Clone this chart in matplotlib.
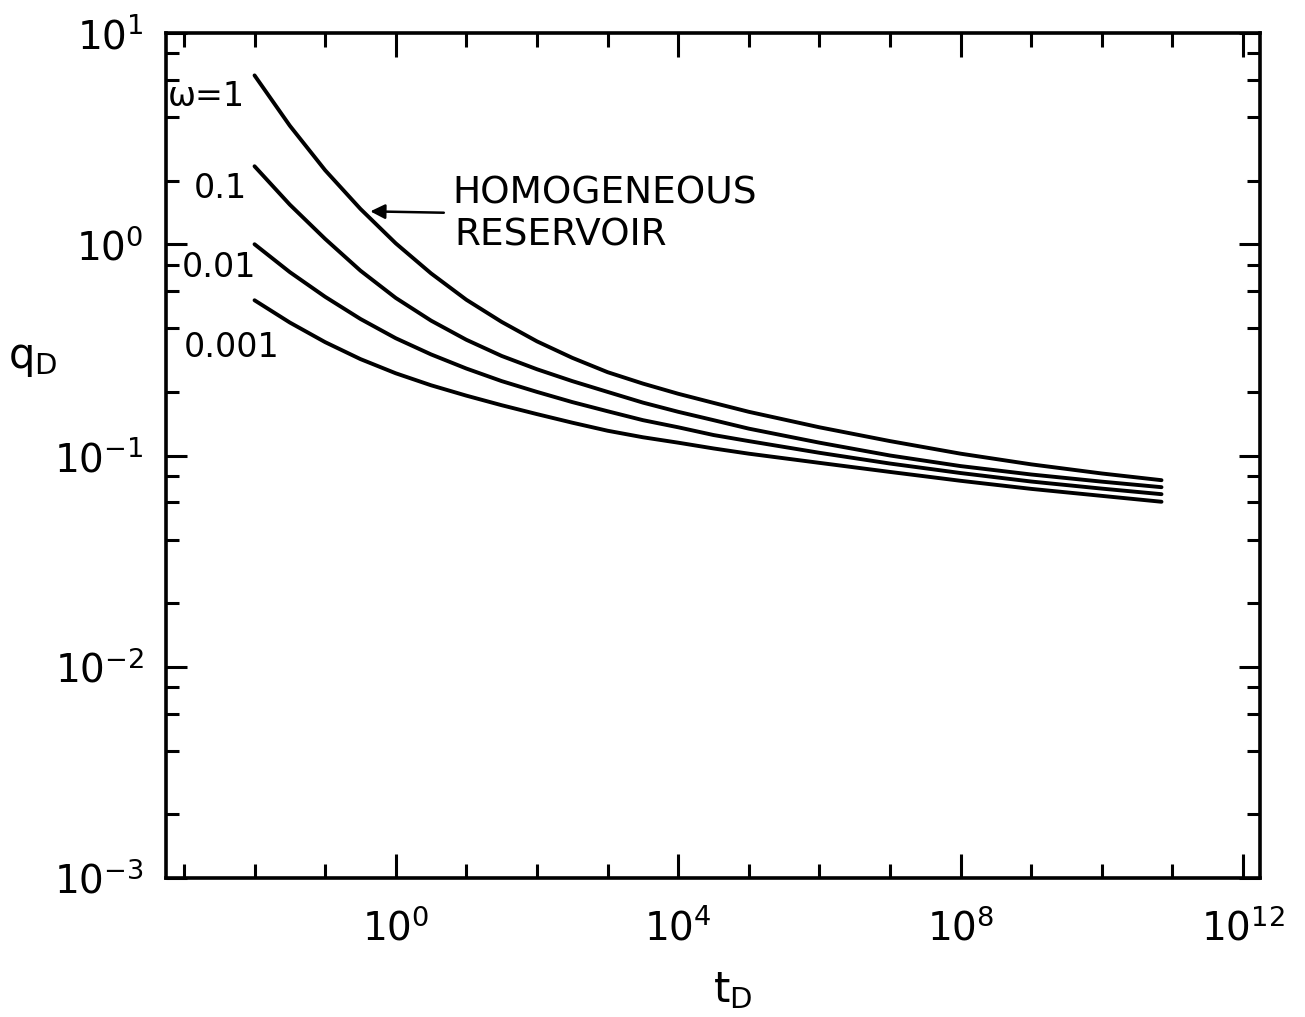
import matplotlib
matplotlib.use("Agg")
import matplotlib.pyplot as plt
import numpy as np
from matplotlib.ticker import FixedLocator, NullFormatter, FuncFormatter

# ---- data ----
t_D = [0.01, 0.0316, 0.1, 0.316, 1.0, 3.16, 10.0, 31.6, 100.0, 316.0, 1e3,
       3162.0, 1e4, 31623.0, 1e5, 1e6, 1e7, 1e8, 1e9, 1e10, 7e10]
q_omega_1 = [6.30, 3.64, 2.24, 1.47, 1.01, 0.728, 0.546, 0.429, 0.347, 0.290, 0.248,
             0.219, 0.196, 0.1775, 0.161, 0.136, 0.117, 0.102, 0.0908, 0.0822, 0.0764]
q_omega_0_1 = [2.34, 1.54, 1.06, 0.750, 0.557, 0.435, 0.353, 0.296, 0.256, 0.225, 0.200,
               0.178, 0.161, 0.147, 0.134, 0.115, 0.100, 0.0891, 0.0813, 0.0752, 0.0708]
q_omega_0_01 = [1.00, 0.738, 0.564, 0.443, 0.359, 0.301, 0.258, 0.225, 0.200, 0.179, 0.162,
                0.147, 0.136, 0.125, 0.117, 0.103, 0.0916, 0.0826, 0.0753, 0.0697, 0.0656]
q_omega_0_001 = [0.543, 0.426, 0.344, 0.286, 0.245, 0.215, 0.192, 0.173, 0.157, 0.143, 0.131,
                 0.122, 0.115, 0.108, 0.102, 0.0923, 0.0836, 0.0759, 0.0695, 0.0644, 0.0604]
series = [q_omega_1, q_omega_0_1, q_omega_0_01, q_omega_0_001]
curve_labels = ["ω=1", "0.1", "0.01", "0.001"]
label_pos = [(10**-2.13, 10**0.70), (10**-2.10, 10**0.265),
             (10**-1.98, 10**-0.109), (10**-1.65, 10**-0.490)]
x_major = [1e0, 1e4, 1e8, 1e12]
x_minor = [10.0**k for k in range(-3, 12) if k % 4 != 0]
y_major = [1e-3, 1e-2, 1e-1, 1e0, 1e1]
y_minor = [m * 10.0**k for k in range(-3, 1) for m in (2, 4, 6, 8)]

fig = plt.figure(figsize=(13.05, 10.17), dpi=100)
ax = fig.add_axes([166/1305, 1-878/1017, 1094/1305, 845/1017])
ax.set_xscale("log")
ax.set_yscale("log")
ax.set_xlim(10**-3.254, 10**12.24)
ax.set_ylim(1e-3, 1e1)

for q in series:
    ax.plot(t_D, q, color="black", lw=2.8, solid_capstyle="round",
            solid_joinstyle="round")

for lab, (x, y) in zip(curve_labels, label_pos):
    ax.text(x, y, lab, fontsize=24, ha="right", va="center")

ax.text(10**0.795, 10**0.239, "HOMOGENEOUS", fontsize=27, ha="left", va="center")
ax.text(10**0.825, 10**0.040, "RESERVOIR", fontsize=27, ha="left", va="center")
ax.annotate("", xy=(10**-0.40, 10**0.156), xytext=(10**0.72, 10**0.149),
            arrowprops=dict(arrowstyle="-|>", lw=1.8, color="black", mutation_scale=22))

ax.xaxis.set_major_locator(FixedLocator(x_major))
ax.xaxis.set_minor_locator(FixedLocator(x_minor))
ax.yaxis.set_major_locator(FixedLocator(y_major))
ax.yaxis.set_minor_locator(FixedLocator(y_minor))
fmt = FuncFormatter(lambda v, p: r"$\mathregular{10^{%d}}$" % int(round(np.log10(v))))
ax.xaxis.set_major_formatter(fmt)
ax.yaxis.set_major_formatter(fmt)
ax.xaxis.set_minor_formatter(NullFormatter())
ax.yaxis.set_minor_formatter(NullFormatter())

ax.tick_params(axis="both", which="both", direction="in", top=True, right=True,
               width=2.2, colors="black", labelsize=28)
ax.tick_params(axis="x", which="major", length=17, pad=22)
ax.tick_params(axis="x", which="minor", length=10)
ax.tick_params(axis="y", which="major", length=15, pad=16)
ax.tick_params(axis="y", which="minor", length=9.5)
for s in ax.spines.values():
    s.set_linewidth(2.6)

ax.set_xlabel(r"$\mathregular{t_D}$", fontsize=30, va="center", ha="center")
ax.set_ylabel(r"$\mathregular{q_D}$", fontsize=30, rotation=0, va="center", ha="center")
ax.xaxis.set_label_coords(0.518, -0.1325)
ax.yaxis.set_label_coords(-0.122, 0.615)

fig.savefig("out.png", dpi=100)
